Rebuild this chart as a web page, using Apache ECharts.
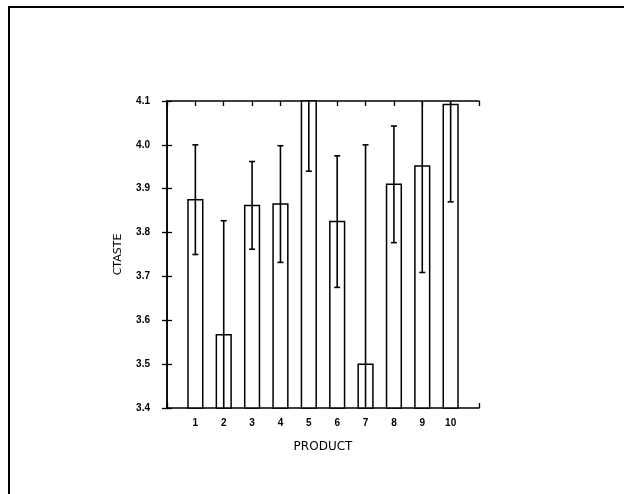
<!DOCTYPE html>
<html>
<head>
<meta charset="utf-8">
<script src="https://cdn.jsdelivr.net/npm/echarts@6/dist/echarts.min.js"></script>
<style>
html,body{margin:0;padding:0;background:#fff;}
#chart{width:624px;height:494px;}
</style>
</head>
<body>
<div id="chart"></div>
<script>
var products = [1, 2, 3, 4, 5, 6, 7, 8, 9, 10];
var means = [3.875, 3.567, 3.862, 3.865, 4.12, 3.825, 3.5, 3.91, 3.952, 4.092];
var errors = [0.125, 0.26, 0.10, 0.133, 0.18, 0.15, 0.5, 0.133, 0.243, 0.222];
var yTicks = [3.4, 3.5, 3.6, 3.7, 3.8, 3.9, 4.0, 4.1];

var Y_MIN = 3.4, Y_MAX = 4.1;
var font = 'Liberation Sans, Arial, sans-serif';
var nameFont = 'DejaVu Sans, sans-serif';

var barData = products.map(function (p, i) { return [p, means[i]]; });
var errData = products.map(function (p, i) { return [p, means[i] - errors[i], means[i] + errors[i]]; });

var chart = echarts.init(document.getElementById('chart'), null, {renderer: 'canvas'});

function barItem(params, api) {
  var x = api.value(0), v = api.value(1);
  var top = api.coord([x, Math.min(v, Y_MAX)]);
  var bottom = api.coord([x, Y_MIN]);
  var w = api.size([1, 0])[0] * 0.52;
  return {
    type: 'rect',
    shape: {x: top[0] - w / 2, y: top[1], width: w, height: bottom[1] - top[1]},
    style: {fill: '#fff', stroke: '#000', lineWidth: 1.5}
  };
}

function errItem(params, api) {
  var x = api.value(0), lo = api.value(1), hi = api.value(2);
  var cl = Math.max(lo, Y_MIN), ch = Math.min(hi, Y_MAX);
  var p1 = api.coord([x, cl]), p2 = api.coord([x, ch]);
  var cap = 3;
  var st = {stroke: '#000', lineWidth: 1.6};
  var children = [{type: 'line', shape: {x1: p1[0], y1: p1[1], x2: p2[0], y2: p2[1]}, style: st}];
  if (lo >= Y_MIN) children.push({type: 'line', shape: {x1: p1[0] - cap, y1: p1[1], x2: p1[0] + cap, y2: p1[1]}, style: st});
  if (hi <= Y_MAX) children.push({type: 'line', shape: {x1: p2[0] - cap, y1: p2[1], x2: p2[0] + cap, y2: p2[1]}, style: st});
  return {type: 'group', children: children};
}

var axisLineStyle = {show: true, lineStyle: {color: '#000', width: 1.5}};
var tickStyle = {show: true, inside: true, length: 5, lineStyle: {color: '#000', width: 1.3}};

chart.setOption({
  animation: false,
  backgroundColor: '#fff',
  graphic: [{
    type: 'rect',
    shape: {x: 9, y: 7, width: 640, height: 520},
    style: {fill: null, stroke: '#000', lineWidth: 2},
    silent: true
  }],
  grid: {left: 167, top: 101, right: 145, bottom: 86, containLabel: false},
  xAxis: [{
    type: 'value', min: 0, max: 11, interval: 1,
    name: 'PRODUCT', nameLocation: 'middle', nameGap: 33,
    nameTextStyle: {fontFamily: nameFont, fontSize: 12, color: '#000'},
    axisLine: axisLineStyle, axisTick: tickStyle,
    axisLabel: {
      margin: 10, fontFamily: font, fontSize: 10, color: '#000', fontWeight: 'bold',
      formatter: function (v) { return products.indexOf(v) >= 0 ? String(v) : ''; }
    },
    splitLine: {show: false}
  }, {
    type: 'value', position: 'top', min: 0, max: 11, interval: 1,
    axisLine: axisLineStyle, axisTick: tickStyle, axisLabel: {show: false}, splitLine: {show: false}
  }],
  yAxis: [{
    type: 'value', min: Y_MIN, max: Y_MAX, interval: 0.1,
    name: 'CTASTE', nameLocation: 'middle', nameGap: 43, nameRotate: 90,
    nameTextStyle: {fontFamily: nameFont, fontSize: 11, color: '#000'},
    axisLine: axisLineStyle, axisTick: tickStyle,
    axisLabel: {
      margin: 17, fontFamily: font, fontSize: 10, color: '#000', fontWeight: 'bold',
      formatter: function (v) { return v.toFixed(1); }
    },
    splitLine: {show: false}
  }, {
    type: 'value', position: 'right', min: Y_MIN, max: Y_MAX, interval: 0.1,
    axisLine: axisLineStyle, axisTick: tickStyle, axisLabel: {show: false}, splitLine: {show: false}
  }],
  series: [{
    type: 'custom', renderItem: barItem, data: barData,
    encode: {x: 0, y: 1}, z: 2
  }, {
    type: 'custom', renderItem: errItem, data: errData,
    encode: {x: 0, y: [1, 2]}, z: 3
  }]
});
</script>
</body>
</html>
